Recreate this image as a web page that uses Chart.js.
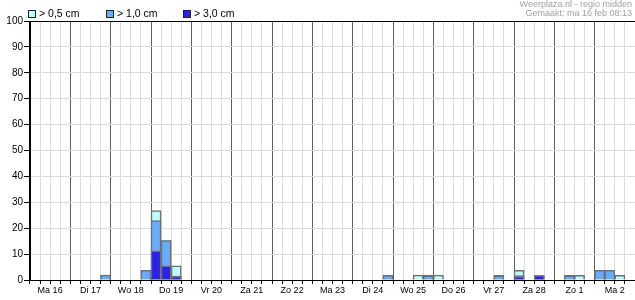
<!DOCTYPE html>
<html>
<head>
<meta charset="utf-8">
<script src="https://cdn.jsdelivr.net/npm/chart.js@4/dist/chart.umd.min.js"></script>
<style>
html,body{margin:0;padding:0;background:#fff;}
#wrap{position:relative;width:635px;height:300px;overflow:hidden;font-family:"Liberation Sans",Arial,sans-serif;}
#wrap canvas{position:absolute;left:0;top:0;}
.lg{position:absolute;top:8px;font-size:10.5px;line-height:11px;color:#000;white-space:nowrap;}
.lg i{position:absolute;left:0;top:2px;width:6px;height:6px;border:1px solid #222;}
.lg span{position:absolute;top:0;}
.hdr{position:absolute;right:3px;font-size:9px;line-height:9px;color:#a0a0a0;white-space:nowrap;}
</style>
</head>
<body>
<div id="wrap">
  <canvas id="c" width="635" height="300"></canvas>
  <div id="legend"></div>
  <div class="hdr" style="top:0px">Weerplaza.nl - regio midden</div>
  <div class="hdr" style="top:9px">Gemaakt: ma 16 feb 08:13</div>
</div>
<script>
// dagen, elk 4 blokken van 6 uur
const days = ['Ma 16','Di 17','Wo 18','Do 19','Vr 20','Za 21','Zo 22','Ma 23','Di 24','Wo 25','Do 26','Vr 27','Za 28','Zo 1','Ma 2'];
const slotsPerDay = 4;

// kans (%) op neerslag per blok
const p05 = [0,0,0,0, 0,0,0,1.9, 0,0,0,3.7, 26.8,15.2,5.5,0, 0,0,0,0, 0,0,0,0, 0,0,0,0, 0,0,0,0, 0,0,0,1.8,
             0,0,1.9,1.9, 1.9,0,0,0, 0,0,1.8,0, 3.7,0,1.7,0, 0,1.8,1.8,0, 3.7,3.7,1.8,0];
const p10 = [0,0,0,0, 0,0,0,1.9, 0,0,0,3.7, 22.9,15.2,1.5,0, 0,0,0,0, 0,0,0,0, 0,0,0,0, 0,0,0,0, 0,0,0,1.8,
             0,0,0,1.6, 0,0,0,0, 0,0,1.6,0, 1.7,0,1.7,0, 0,1.6,0,0, 3.7,3.7,0,0];
const p30 = [0,0,0,0, 0,0,0,0, 0,0,0,0, 11.3,5.5,1.3,0, 0,0,0,0, 0,0,0,0, 0,0,0,0, 0,0,0,0, 0,0,0,0,
             0,0,0,0, 0,0,0,0, 0,0,0,0, 1.2,0,1.7,0, 0,0,0,0, 0,0,0,0];
const yTicks = [0,10,20,30,40,50,60,70,80,90,100];

const series = [
  {label:'> 0,5 cm', data:p05, color:'#bdfcfc', left:28},
  {label:'> 1,0 cm', data:p10, color:'#66adff', left:106},
  {label:'> 3,0 cm', data:p30, color:'#2b20ee', left:183}
];

const labels = [];
days.forEach(d => { for (let s = 0; s < slotsPerDay; s++) labels.push(s === 1 ? d : ''); });

// legenda
const lg = document.getElementById('legend');
series.forEach(s => {
  const el = document.createElement('div'); el.className = 'lg'; el.style.left = s.left + 'px';
  el.innerHTML = `<i style="background:${s.color}"></i><span style="left:11px">${s.label}</span>`;
  lg.appendChild(el);
});

const FONT = '"Liberation Sans", Arial, sans-serif';
const DAY_LINE = '#606060', LIGHT = '#dcdcdc';

new Chart(document.getElementById('c'), {
  type: 'bar',
  data: {
    labels,
    // laagste order wordt bovenop getekend
    datasets: series.map((s, i) => ({
      label: s.label, data: s.data, backgroundColor: s.color,
      borderColor: '#707070', borderWidth: 1.5, order: series.length - i,
      grouped: false, barPercentage: 1, categoryPercentage: 1
    }))
  },
  options: {
    responsive: false, animation: false,
    layout: { padding: { top: 21, right: 0, bottom: 0, left: 0 } },
    plugins: { legend: { display: false }, tooltip: { enabled: false } },
    scales: {
      x: {
        offset: true,
        grid: {
          offset: true, lineWidth: 1, tickLength: 4, tickColor: '#000',
          color: c => c.index === undefined ? DAY_LINE : (c.index === 0 ? '#000' : (c.index % slotsPerDay === 0 ? DAY_LINE : LIGHT))
        },
        border: { color: '#000' },
        ticks: { autoSkip: false, maxRotation: 0, minRotation: 0, labelOffset: 5, padding: 1, color: '#000', font: { family: FONT, size: 9 } },
        afterFit: s => { s.height = 20; }
      },
      y: {
        min: 0, max: 100,
        afterBuildTicks: s => { s.ticks = yTicks.map(v => ({ value: v })); },
        grid: {
          tickLength: 6, tickColor: '#000',
          color: c => (c.tick && (c.tick.value === 100 || c.tick.value === 0)) ? '#000' : LIGHT
        },
        border: { color: '#000' },
        ticks: { padding: 1, color: '#000', font: { family: FONT, size: 10 } },
        afterFit: s => { s.width = 30; }
      }
    }
  }
});
</script>
</body>
</html>
